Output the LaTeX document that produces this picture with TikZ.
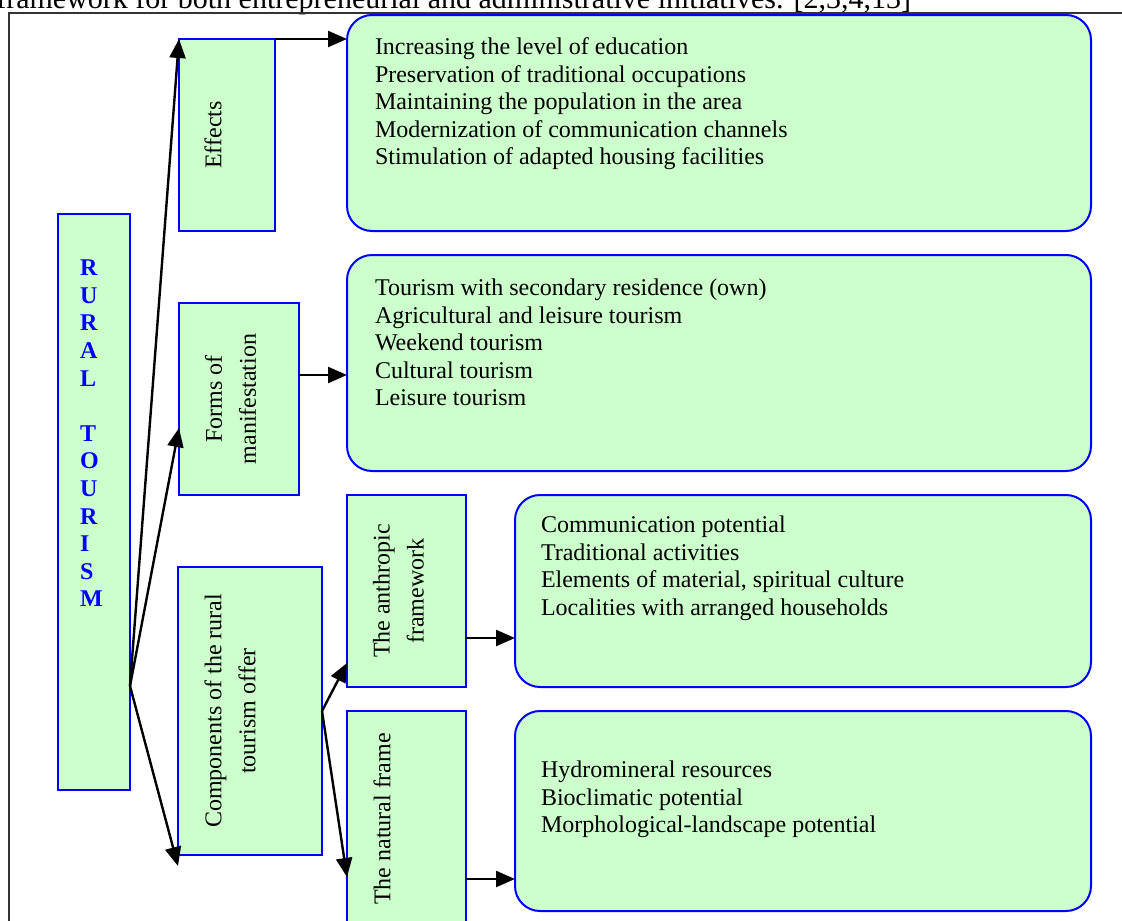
\documentclass[tikz,border=0pt]{standalone}
\usepackage{fontspec}
\setmainfont{Liberation Serif}
\usetikzlibrary{arrows.meta}
\definecolor{boxfill}{RGB}{204,255,204}
\definecolor{boxline}{RGB}{0,0,255}
\begin{document}
\begin{tikzpicture}[x=1pt,y=-1pt,
  every node/.style={outer sep=0pt},
  panel/.style={draw=boxline, fill=boxfill, line width=2pt, inner sep=0pt, anchor=north west},
  listbox/.style={panel, rounded corners=25pt},
  vlabel/.style={rotate=90, align=center, inner sep=0pt, font=\fontsize{24}{34}\selectfont},
  listtext/.style={anchor=north west, align=left, inner sep=0pt, font=\fontsize{24}{27.5}\selectfont},
  conn/.style={draw=black, line width=2.4pt, -{Triangle[length=19pt,width=16pt]}},
]
\useasboundingbox (0,0) rectangle (1122,921);
\clip (0,0) rectangle (1122,921);

% running text above the figure frame
\node[anchor=base east, inner sep=0pt, font=\fontsize{30}{34}\selectfont] (caption) at (911,8)
  {framework for both entrepreneurial and administrative initiatives. [2,3,4,13]};

% figure frame
\draw[line width=2pt, black!80] (9,940) -- (9,13) -- (1140,13);

% rectangular panels
\node[panel, minimum width=72pt,  minimum height=576pt] (rural)   at (58,214)  {};
\node[panel, minimum width=96pt,  minimum height=192pt] (effects) at (179,39)  {};
\node[panel, minimum width=120pt, minimum height=192pt] (forms)   at (179,303) {};
\node[panel, minimum width=144pt, minimum height=288pt] (comp)    at (178,567) {};
\node[panel, minimum width=119pt, minimum height=192pt] (anthro)  at (347,495) {};
\node[panel, minimum width=119pt, minimum height=219pt] (natural) at (347,711) {};

% rounded list panels
\node[listbox, minimum width=744pt, minimum height=216pt] (effbox)   at (347,15)  {};
\node[listbox, minimum width=744pt, minimum height=216pt] (formsbox) at (347,255) {};
\node[listbox, minimum width=576pt, minimum height=192pt] (anthbox)  at (515,495) {};
\node[listbox, minimum width=576pt, minimum height=200pt] (natbox)   at (515,711) {};

% vertical title
\node[anchor=north west, align=left, inner sep=0pt, text=boxline,
      font=\fontsize{24}{27.6}\selectfont\bfseries] (ruraltext) at (80,260)
  {R\\U\\R\\A\\L\\[27.6pt]T\\O\\U\\R\\I\\S\\M};

% rotated labels
\node[vlabel] (effectslabel) at ([xshift=-14pt]effects.center) {Effects};
\node[vlabel] (formslabel)   at ([xshift=-8.5pt]forms.center) {Forms of\\manifestation};
\node[vlabel] (complabel)    at ([xshift=-20pt]comp.center) {Components of the rural\\tourism offer};
\node[vlabel] (anthrolabel)  at ([xshift=-8pt]anthro.center) {The anthropic\\framework};
\node[vlabel] (natlabel)     at ([xshift=-24.5pt,yshift=1.5pt]natural.center) {The natural frame};

% list contents
\node[listtext] (efftext) at ([xshift=28pt,yshift=-23pt]effbox.north west)
  {Increasing the level of education\\
   Preservation of traditional occupations\\
   Maintaining the population in the area\\
   Modernization of communication channels\\
   Stimulation of adapted housing facilities};
\node[listtext] (formstext) at ([xshift=28pt,yshift=-24pt]formsbox.north west)
  {Tourism with secondary residence (own)\\
   Agricultural and leisure tourism\\
   Weekend tourism\\
   Cultural tourism\\
   Leisure tourism};
\node[listtext] (anthtext) at ([xshift=26pt,yshift=-21pt]anthbox.north west)
  {Communication potential\\
   Traditional activities\\
   Elements of material, spiritual culture\\
   Localities with arranged households};
\node[listtext] (nattext) at ([xshift=26pt,yshift=-50pt]natbox.north west)
  {Hydromineral resources\\
   Bioclimatic potential\\
   Morphological-landscape potential};

% connectors from the title column
\path ([yshift=104pt]rural.south east) coordinate (hub);
\draw[conn] (hub) -- (effects.north west);
\draw[conn] (hub) -- ([yshift=-29pt]forms.west);
\draw[conn] (hub) -- ([yshift=-11pt]comp.south west);

% connectors from the components panel
\draw[conn] (comp.east) -- ([yshift=24pt]anthro.south west);
\draw[conn] (comp.east) -- ([yshift=-166pt]natural.north west);

% horizontal connectors into the list panels
\draw[conn] (effects.north east) -- (effects.north east -| effbox.west);
\path ([yshift=24pt]forms.east) coordinate (formsout);
\draw[conn] (formsout) -- (formsout -| formsbox.west);
\path ([yshift=-47pt]anthro.east) coordinate (anthout);
\draw[conn] (anthout) -- (anthout -| anthbox.west);
\path ([yshift=-58.5pt]natural.east) coordinate (natout);
\draw[conn] (natout) -- (natout -| natbox.west);
\end{tikzpicture}
\end{document}
